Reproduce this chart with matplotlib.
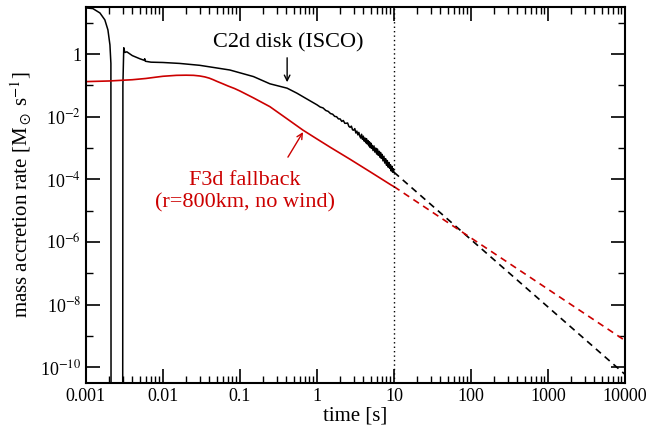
import numpy as np
import matplotlib
matplotlib.use("Agg")
import matplotlib.pyplot as plt
from matplotlib.ticker import LogLocator, FixedLocator, NullFormatter

plt.rcParams['font.family'] = ['Liberation Serif', 'DejaVu Serif']
plt.rcParams['mathtext.fontset'] = 'stix'

# C2d disk (ISCO), time [s] and log10 of mass accretion rate
disk_t = [0.001, 0.00123, 0.00152, 0.00176, 0.00193, 0.00205, 0.00211, 0.00212,
          0.00300, 0.00302, 0.00310, 0.00320, 0.00340, 0.0040, 0.0050, 0.0057, 0.0058, 0.0059,
          0.0070, 0.010, 0.0165, 0.030, 0.074, 0.15, 0.245, 0.41, 0.55, 0.70, 0.85,
          1.0, 1.1, 1.2, 1.3, 1.4, 1.5, 1.6, 1.7, 1.8, 1.9, 2.0, 2.1, 2.2, 2.3, 2.4,
          2.5, 2.6, 2.7, 2.8, 2.9, 3.0, 3.1, 3.2, 3.3, 3.4, 3.5, 3.6, 3.7, 3.8, 3.9,
          4.0, 4.1, 4.2, 4.3, 4.4, 4.5, 4.6, 4.7, 4.8, 4.9, 5.0, 5.1, 5.2, 5.35, 5.5,
          5.65, 5.8, 5.95, 6.1, 6.25, 6.4, 6.55, 6.7, 6.85, 7.0, 7.2, 7.4, 7.6, 7.8,
          8.0, 8.2, 8.4, 8.6, 8.8, 9.0, 9.2, 9.4, 9.6, 9.8, 10.0]
disk_log = [1.47, 1.45, 1.31, 1.09, 0.77, 0.29, -0.3, -13,
            -13, -1.0, 0.2, 0.05, 0.07, -0.05, -0.15, -0.20, -0.15, -0.23,
            -0.26, -0.27, -0.30, -0.36, -0.51, -0.72, -0.95, -1.09, -1.25, -1.40, -1.52,
            -1.62, -1.69, -1.72, -1.80, -1.83, -1.90, -1.92, -1.99, -2.00, -2.07, -2.07, -2.15, -2.12, -2.21, -2.21,
            -2.20, -2.31, -2.34, -2.30, -2.42, -2.43, -2.38, -2.52, -2.46, -2.58, -2.50, -2.62, -2.68, -2.56, -2.72,
            -2.62, -2.78, -2.68, -2.83, -2.70, -2.87, -2.76, -2.93, -2.80, -2.98, -2.84, -3.01, -2.91, -3.08, -2.93,
            -3.13, -3.00, -3.19, -3.03, -3.23, -3.10, -3.29, -3.14, -3.33, -3.20, -3.41, -3.26, -3.48, -3.34,
            -3.55, -3.40, -3.61, -3.46, -3.65, -3.53, -3.73, -3.58, -3.77, -3.66, -3.77]

# F3d fallback
fall_t = [0.001, 0.002, 0.004, 0.006, 0.008, 0.01, 0.015, 0.02, 0.025, 0.03, 0.035,
          0.04, 0.045, 0.05, 0.06, 0.07, 0.085, 0.1, 0.15, 0.245, 0.4, 0.66, 1.0,
          1.5, 2.7, 5.0, 9.2, 10.0]
fall_log = [-0.88, -0.86, -0.82, -0.78, -0.74, -0.71, -0.68, -0.675, -0.68, -0.70, -0.73,
            -0.77, -0.82, -0.87, -0.95, -1.02, -1.10, -1.18, -1.40, -1.68, -2.05, -2.43, -2.71,
            -2.98, -3.36, -3.77, -4.18, -4.23]

# extrapolations (dashed)
ext_t = [10.0, 10000.0]
disk_ext_log = [-3.77, -10.22]
fall_ext_log = [-4.23, -9.14]

fig = plt.figure(figsize=(6.61, 4.30), dpi=100)
ax = fig.add_axes([0.130, 0.109, 0.8155, 0.8747])

red = '#cc0000'
ax.plot(disk_t, np.power(10.0, disk_log), color='black', lw=1.1)
ax.plot(fall_t, np.power(10.0, fall_log), color=red, lw=1.2)
ax.plot(ext_t, np.power(10.0, disk_ext_log), color='black', lw=1.2, ls=(0, (4, 3)))
ax.plot(ext_t, np.power(10.0, fall_ext_log), color=red, lw=1.2, ls=(0, (4, 3)))
ax.axvline(10, color='black', lw=1.0, ls=(0, (1, 2.2)))

ax.set_xscale('log')
ax.set_yscale('log')
ax.set_xlim(0.001, 10000)
ax.set_ylim(10**-10.5, 10**1.5)

xt = [0.001, 0.01, 0.1, 1, 10, 100, 1000, 10000]
xl = ['0.001', '0.01', '0.1', '1', '10', '100', '1000', '10000']
ax.set_xticks(xt)
ax.set_xticklabels(xl)
ax.xaxis.set_minor_locator(LogLocator(base=10, subs=np.arange(2, 10), numticks=20))
ax.xaxis.set_minor_formatter(NullFormatter())

yt = [1e-10, 1e-8, 1e-6, 1e-4, 1e-2, 1]
yl = [r'10$^{-10}$', r'10$^{-8}$', r'10$^{-6}$', r'10$^{-4}$', r'10$^{-2}$', '1']
ax.set_yticks(yt)
ax.set_yticklabels(yl)
ax.yaxis.set_minor_locator(FixedLocator([1e-9, 1e-7, 1e-5, 1e-3, 1e-1, 10]))
ax.yaxis.set_minor_formatter(NullFormatter())

ax.tick_params(which='both', direction='in', top=True, right=True, labelsize=13)
ax.tick_params(which='major', length=10, width=1.2)
ax.tick_params(which='minor', length=5, width=1.0)
for s in ax.spines.values():
    s.set_linewidth(1.5)

ax.set_xlabel('time [s]', fontsize=15, labelpad=1)
ax.set_ylabel(r'mass accretion rate [M$_\odot$ s$^{-1}$]', fontsize=15, labelpad=5)

ax.annotate('', xy=(0.41, 10**-0.9), xytext=(0.41, 10**-0.12),
            arrowprops=dict(arrowstyle='->', color='black', lw=1.0, shrinkA=0, shrinkB=0))
ax.text(0.42, 10**0.35, 'C2d disk (ISCO)', fontsize=16, ha='center', va='center')

ax.annotate('', xy=(0.66, 10**-2.49), xytext=(0.42, 10**-3.29),
            arrowprops=dict(arrowstyle='->', color=red, lw=1.0, shrinkA=0, shrinkB=0))
ax.text(0.116, 10**-4.03, 'F3d fallback', fontsize=16,
        color=red, ha='center', va='center')
ax.text(0.116, 10**-4.76, '(r=800km, no wind)', fontsize=16,
        color=red, ha='center', va='center')

fig.savefig('out.png', dpi=100)
